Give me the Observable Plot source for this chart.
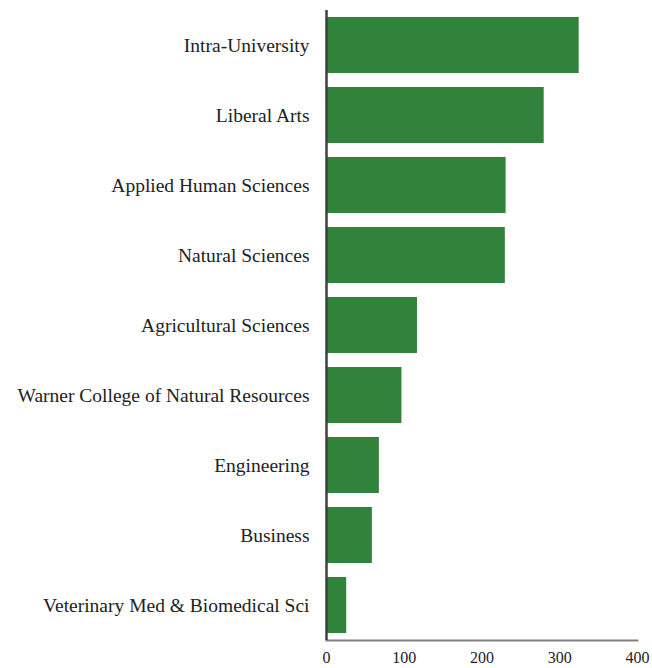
<!DOCTYPE html>
<html>
<head>
<meta charset="utf-8">
<script src="https://cdn.jsdelivr.net/npm/d3@7"></script>
<script src="https://cdn.jsdelivr.net/npm/@observablehq/plot@0.6"></script>
<style>
  body { margin: 0; background: #fff; }
  svg text { font-family: "Liberation Serif", "DejaVu Serif", serif !important; }
</style>
</head>
<body>
<div id="chart"></div>
<script>
const colleges = [
  "Intra-University",
  "Liberal Arts",
  "Applied Human Sciences",
  "Natural Sciences",
  "Agricultural Sciences",
  "Warner College of Natural Resources",
  "Engineering",
  "Business",
  "Veterinary Med & Biomedical Sci"
];
const counts = [325, 280, 231, 230, 117, 97, 68, 59, 26];
const xTicks = [0, 100, 200, 300, 400];

const data = colleges.map((c, i) => ({college: c, count: counts[i]}));
const font = "Liberation Serif, serif";

const chart = Plot.plot({
  width: 652,
  height: 668,
  marginLeft: 326,
  marginRight: 15,
  marginTop: 10,
  marginBottom: 28,
  style: {fontFamily: font, background: "#fff"},
  x: {domain: [0, 400]},
  y: {domain: colleges, paddingInner: 0.2, paddingOuter: 0.1},
  marks: [
    Plot.barX(data, {x: "count", y: "college", fill: "#31823b"}),
    Plot.axisY({tickSize: 0, tickPadding: 17, fontSize: 19.5, fontFamily: font, fill: "#222", label: null}),
    Plot.axisX({ticks: xTicks, tickSize: 0, tickPadding: 11, fontSize: 16, fontFamily: font, fill: "#222", label: null, tickFormat: d3.format("d")}),
    Plot.frame({anchor: "bottom", stroke: "#808080", strokeWidth: 2}),
    Plot.ruleX([0], {stroke: "#404040", strokeWidth: 2.5})
  ]
});
document.getElementById("chart").appendChild(chart);
</script>
</body>
</html>
